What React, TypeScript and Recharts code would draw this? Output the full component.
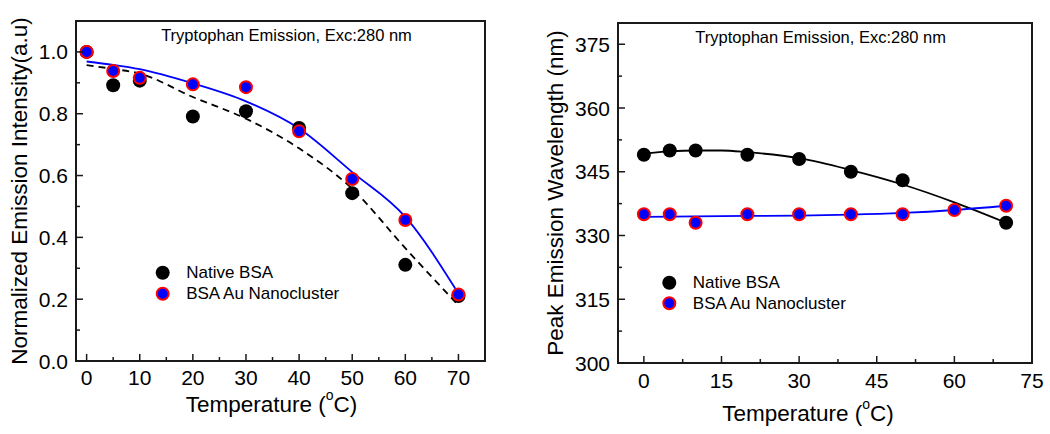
import React from 'react';
import { ComposedChart, Line, Scatter, XAxis, YAxis, Label, ReferenceArea } from 'recharts';

const FONT = "Arial, 'Liberation Sans', sans-serif";
const INK = '#1a1a1a';

// ---- Left panel data ----
const temps = [0, 5, 10, 20, 30, 40, 50, 60, 70];
const intensityNative = [1.0, 0.892, 0.907, 0.791, 0.808, 0.754, 0.543, 0.311, 0.21];
const intensityNano = [1.0, 0.938, 0.916, 0.895, 0.886, 0.743, 0.589, 0.456, 0.215];
const fitTempsL = [0, 5, 10, 20, 30, 40, 50, 60, 70];
const fitIntensityNative = [0.957, 0.945, 0.93, 0.854, 0.784, 0.688, 0.557, 0.365, 0.18];
const fitIntensityNano = [0.969, 0.958, 0.944, 0.898, 0.84, 0.752, 0.611, 0.466, 0.218];
const xTicksL = [0, 5, 10, 15, 20, 25, 30, 35, 40, 45, 50, 55, 60, 65, 70];
const xMajorsL = [0, 10, 20, 30, 40, 50, 60, 70];
const yTicksL = [0, 0.1, 0.2, 0.3, 0.4, 0.5, 0.6, 0.7, 0.8, 0.9, 1.0];
const yMajorsL = [0, 0.2, 0.4, 0.6, 0.8, 1.0];

// ---- Right panel data ----
const tempsNativeR = [0, 5, 10, 20, 30, 40, 50, 70];
const peakNative = [349, 350, 350, 349, 348, 345, 343, 333];
const tempsNanoR = [0, 5, 10, 20, 30, 40, 50, 60, 70];
const peakNano = [335, 335, 333, 335, 335, 335, 335, 336, 337];
const fitTempsR = [0, 5, 10, 15, 20, 30, 40, 50, 60, 70];
const fitPeakNative = [349.3, 349.8, 350.0, 350.0, 349.6, 348.2, 345.4, 342.0, 337.8, 333.0];
const fitPeakNano = [334.4, 334.45, 334.5, 334.55, 334.6, 334.7, 334.9, 335.3, 336.0, 337.0];
const xTicksR = [0, 7.5, 15, 22.5, 30, 37.5, 45, 52.5, 60, 67.5, 75];
const xMajorsR = [0, 15, 30, 45, 60, 75];
const yTicksR = [300, 307.5, 315, 322.5, 330, 337.5, 345, 352.5, 360, 367.5, 375];
const yMajorsR = [300, 315, 330, 345, 360, 375];

const TITLE = 'Tryptophan Emission, Exc:280 nm';
const SERIES_NATIVE = 'Native BSA';
const SERIES_NANO = 'BSA Au Nanocluster';

const toPts = (xs: number[], ys: number[]) => xs.map((x, i) => ({ x, y: ys[i] }));
const isMajor = (v: number, majors: number[]) => majors.some((m) => Math.abs(m - v) < 1e-6);

const FRAME = { stroke: INK, strokeWidth: 2 };

const makeXTick = (majors: number[], fmt: (v: number) => string, dyLabel: number) => (props: any) => {
  const { x, y, payload } = props;
  const v = payload.value;
  const maj = isMajor(v, majors);
  return (
    <g>
      <path d={`M${x},${y}L${x},${y - (maj ? 7 : 4)}`} stroke={INK} strokeWidth={1.5} fill="none" />
      {maj && (
        <text x={x} y={y + dyLabel} textAnchor="middle" dominantBaseline="central" fontSize={21} fontFamily={FONT} fill="#000">
          {fmt(v)}
        </text>
      )}
    </g>
  );
};

const makeYTick = (majors: number[], fmt: (v: number) => string) => (props: any) => {
  const { x, y, payload } = props;
  const v = payload.value;
  const maj = isMajor(v, majors);
  return (
    <g>
      <path d={`M${x},${y}L${x + (maj ? 7 : 4)},${y}`} stroke={INK} strokeWidth={1.5} fill="none" />
      {maj && (
        <text x={x - 8} y={y} textAnchor="end" dominantBaseline="central" fontSize={21} fontFamily={FONT} fill="#000">
          {fmt(v)}
        </text>
      )}
    </g>
  );
};

const BlackDot = (p: any) => <circle cx={p.cx} cy={p.cy} r={7} fill="#000" />;
const NanoDot = (p: any) => <circle cx={p.cx} cy={p.cy} r={6} fill="#0000ff" stroke="#ff0000" strokeWidth={2} />;

const makeYLabel = (text: string, cx: number) => (props: any) => {
  const vb = props.viewBox || {};
  const yc = (vb.y || 0) + (vb.height || 0) / 2;
  return (
    <text x={cx} y={yc} transform={`rotate(-90, ${cx}, ${yc})`} textAnchor="middle" dominantBaseline="central" fontSize={22.5} fontFamily={FONT} fill="#000">
      {text}
    </text>
  );
};

const makeXLabel = (dx: number, yc: number) => (props: any) => {
  const vb = props.viewBox || {};
  const xc = (vb.x || 0) + (vb.width || 0) / 2 + dx;
  return (
    <text x={xc} y={yc} textAnchor="middle" dominantBaseline="central" fontSize={22.5} fontFamily={FONT} fill="#000">
      Temperature (<tspan fontSize={14} dy={-9}>o</tspan><tspan dy={9}>C)</tspan>
    </text>
  );
};

type OverlayProps = { titleX: number; titleY: number; legX: number; legY: number; legGap: number };

const makeOverlay = (o: OverlayProps) => () => (
  <g>
    <text x={o.titleX} y={o.titleY} textAnchor="middle" dominantBaseline="central" fontSize={16.5} fontFamily={FONT} fill="#000">
      {TITLE}
    </text>
    <circle cx={o.legX} cy={o.legY} r={7} fill="#000" />
    <text x={o.legX + 23.5} y={o.legY} dominantBaseline="central" fontSize={17} fontFamily={FONT} fill="#000">
      {SERIES_NATIVE}
    </text>
    <circle cx={o.legX} cy={o.legY + o.legGap} r={6} fill="#0000ff" stroke="#ff0000" strokeWidth={2} />
    <text x={o.legX + 23.5} y={o.legY + o.legGap} dominantBaseline="central" fontSize={17} fontFamily={FONT} fill="#000">
      {SERIES_NANO}
    </text>
  </g>
);

const LeftChart = () => (
  <ComposedChart width={530} height={434} margin={{ top: 21, right: 45, bottom: 0, left: 0 }}>
    <XAxis type="number" dataKey="x" domain={[-2, 75]} allowDataOverflow ticks={xTicksL} interval={0} tickSize={0} tickMargin={0}
      axisLine={FRAME} tickLine={false} height={73} tick={makeXTick(xMajorsL, (v) => String(v), 16)}>
      <Label content={makeXLabel(-9, 404)} />
    </XAxis>
    <YAxis type="number" dataKey="y" domain={[0, 1.1]} allowDataOverflow ticks={yTicksL} interval={0} tickSize={0} tickMargin={0}
      axisLine={FRAME} tickLine={false} width={76} tick={makeYTick(yMajorsL, (v) => v.toFixed(1))}>
      <Label content={makeYLabel('Normalized Emission Intensity(a.u)', 19)} />
      <Label content={makeOverlay({ titleX: 286.5, titleY: 35, legX: 162.7, legY: 272.7, legGap: 21 })} />
    </YAxis>
    <ReferenceArea x1={-2} x2={75} y1={0} y2={1.1} fill="none" stroke={INK} strokeWidth={2} />
    <Line data={toPts(fitTempsL, fitIntensityNative)} dataKey="y" type="monotone" stroke="#000" strokeWidth={1.8} strokeDasharray="7 5" dot={false} activeDot={false} isAnimationActive={false} />
    <Line data={toPts(fitTempsL, fitIntensityNano)} dataKey="y" type="monotone" stroke="#0000ff" strokeWidth={1.8} dot={false} activeDot={false} isAnimationActive={false} />
    <Scatter data={toPts(temps, intensityNative)} dataKey="y" shape={BlackDot} isAnimationActive={false} />
    <Scatter data={toPts(temps, intensityNano)} dataKey="y" shape={NanoDot} isAnimationActive={false} />
  </ComposedChart>
);

const RightChart = () => (
  <ComposedChart width={520} height={434} margin={{ top: 23, right: 18, bottom: 0, left: 0 }}>
    <XAxis type="number" dataKey="x" domain={[-5, 75]} allowDataOverflow ticks={xTicksR} interval={0} tickSize={0} tickMargin={0}
      axisLine={FRAME} tickLine={false} height={71} tick={makeXTick(xMajorsR, (v) => String(v), 17)}>
      <Label content={makeXLabel(-17, 413)} />
    </XAxis>
    <YAxis type="number" dataKey="y" domain={[300, 380]} allowDataOverflow ticks={yTicksR} interval={0} tickSize={0} tickMargin={0}
      axisLine={FRAME} tickLine={false} width={88} tick={makeYTick(yMajorsR, (v) => String(v))}>
      <Label content={makeYLabel('Peak Emission Wavelength (nm)', 25)} />
      <Label content={makeOverlay({ titleX: 290.7, titleY: 36.7, legX: 139.3, legY: 282.7, legGap: 20.6 })} />
    </YAxis>
    <ReferenceArea x1={-5} x2={75} y1={300} y2={380} fill="none" stroke={INK} strokeWidth={2} />
    <Line data={toPts(fitTempsR, fitPeakNative)} dataKey="y" type="monotone" stroke="#000" strokeWidth={1.8} dot={false} activeDot={false} isAnimationActive={false} />
    <Line data={toPts(fitTempsR, fitPeakNano)} dataKey="y" type="monotone" stroke="#0000ff" strokeWidth={1.8} dot={false} activeDot={false} isAnimationActive={false} />
    <Scatter data={toPts(tempsNativeR, peakNative)} dataKey="y" shape={BlackDot} isAnimationActive={false} />
    <Scatter data={toPts(tempsNanoR, peakNano)} dataKey="y" shape={NanoDot} isAnimationActive={false} />
  </ComposedChart>
);

export default function App() {
  return (
    <div style={{ position: 'absolute', left: 0, top: 0, width: 1050, height: 434, display: 'flex', background: '#fff' }}>
      <LeftChart />
      <RightChart />
    </div>
  );
}
